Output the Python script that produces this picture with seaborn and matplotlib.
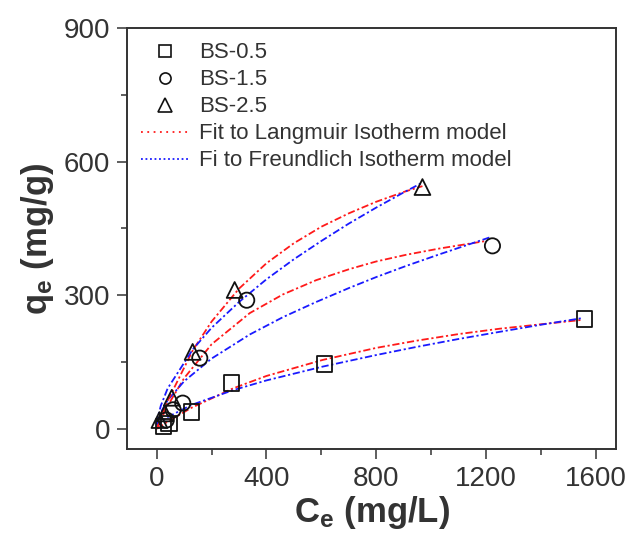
import matplotlib
matplotlib.use("Agg")
import matplotlib.pyplot as plt
from matplotlib.ticker import MultipleLocator
from matplotlib.lines import Line2D
import seaborn as sns
import pandas as pd

c_bs05 = [25, 45, 127, 273, 612, 1558]
q_bs05 = [5, 12, 38, 103, 146, 247]
c_bs15 = [35, 60, 95, 157, 328, 1223]
q_bs15 = [20, 43, 58, 159, 289, 411]
c_bs25 = [10, 30, 55, 131, 284, 968]
q_bs25 = [20, 35, 70, 173, 312, 543]

# Fitted curves
lc05 = [1, 5, 15, 40, 127, 278, 400, 605, 800, 945, 1100, 1249, 1400, 1552]
lq05 = [0.4, 2.1, 6.3, 16.4, 47.6, 91, 119, 155, 182, 198, 213, 225, 235, 245]
fc05 = [1, 5, 15, 40, 127, 278, 400, 605, 800, 945, 1100, 1249, 1400, 1552]
fq05 = [2.8, 7.5, 14.7, 26.7, 54, 87, 109, 140, 166, 184, 202, 218, 234, 249]

lc15 = [1, 5, 15, 40, 100, 200, 339, 460, 581, 703, 800, 909, 1030, 1200]
lq15 = [1.4, 7.1, 20.7, 52, 114, 190, 260, 302, 334, 359, 376, 391, 405, 422]
fc15 = [1, 5, 15, 40, 100, 200, 339, 460, 581, 703, 800, 909, 1030, 1218]
fq15 = [8.3, 20, 37, 64.5, 107, 158, 212, 251, 285, 317, 341, 366, 392, 431]

lc25 = [1, 5, 15, 40, 132, 200, 300, 400, 500, 600, 700, 800, 900, 968]
lq25 = [1.7, 8.5, 25, 63, 177, 241, 315, 372, 417, 454, 484, 510, 532, 545]
fc25 = [1, 5, 15, 40, 132, 200, 300, 400, 500, 600, 700, 800, 900, 968]
fq25 = [11.3, 28, 52, 91, 179, 227, 285, 336, 381, 422, 461, 497, 531, 553]

series_labels = ["BS-0.5", "BS-1.5", "BS-2.5"]
fit_labels = ["Fit to Langmuir Isotherm model", "Fi to Freundlich Isotherm model"]

sns.set_theme(style="white")
plt.rcParams["font.family"] = ["Liberation Sans", "DejaVu Sans"]
plt.rcParams["mathtext.fontset"] = "custom"
plt.rcParams["mathtext.rm"] = "Liberation Sans:bold"
plt.rcParams["mathtext.it"] = "Liberation Sans:bold"
plt.rcParams["mathtext.bf"] = "Liberation Sans:bold"

fig = plt.figure(figsize=(6.3, 5.38), dpi=100)
ax = fig.add_axes([0.2016, 0.1654, 0.7762, 0.7826])

red = "#ff1a1a"
blue = "#1a1aff"
dash = (4, 1.5, 1.2, 1.5)

curves = [(lc05, lq05, red), (fc05, fq05, blue),
          (lc15, lq15, red), (fc15, fq15, blue),
          (lc25, lq25, red), (fc25, fq25, blue)]
for cx, cy, col in curves:
    df = pd.DataFrame({"C": cx, "q": cy})
    sns.lineplot(data=df, x="C", y="q", ax=ax, color=col, lw=1.3,
                 sort=False, estimator=None, legend=False)
    ax.lines[-1].set_dashes(dash)

marker_sets = [(c_bs05, q_bs05, "s", 120), (c_bs15, q_bs15, "o", 120), (c_bs25, q_bs25, "^", 130)]
for (cx, cy, m, sz), lab in zip(marker_sets, series_labels):
    df = pd.DataFrame({"C": cx, "q": cy})
    sns.scatterplot(data=df, x="C", y="q", ax=ax, marker=m, s=sz,
                    facecolor="none", edgecolor="#111111", linewidth=1.3,
                    legend=False, zorder=5)

handles = [Line2D([], [], ls="none", marker="s", ms=8, mfc="none", mec="#111111", mew=1.2),
           Line2D([], [], ls="none", marker="o", ms=8, mfc="none", mec="#111111", mew=1.2),
           Line2D([], [], ls="none", marker="^", ms=10, mfc="none", mec="#111111", mew=1.2),
           Line2D([], [], color=red, lw=1.3, ls=(0, (1, 2.5))),
           Line2D([], [], color=blue, lw=1.3, ls=(0, (1, 1.5)))]
leg = ax.legend(handles, series_labels + fit_labels, loc="upper left",
                bbox_to_anchor=(0.0, 1.0), frameon=False, fontsize=16,
                handlelength=2.15, handletextpad=0.45, labelspacing=0.27,
                borderaxespad=0.25)
for t in leg.get_texts():
    t.set_color("#333333")

ax.set_xlim(-108, 1673)
ax.set_ylim(-45, 900)
ax.set_xticks([0, 400, 800, 1200, 1600])
ax.set_yticks([0, 300, 600, 900])
ax.xaxis.set_minor_locator(MultipleLocator(200))
ax.yaxis.set_minor_locator(MultipleLocator(150))
ax.tick_params(which="major", direction="out", length=7, width=1.1,
               color="#333333", labelsize=20, labelcolor="#333333", pad=5,
               bottom=True, left=True, top=False, right=False)
ax.tick_params(which="minor", direction="out", length=4, width=1.1,
               color="#333333", bottom=True, left=True, top=False, right=False)
for sp in ax.spines.values():
    sp.set_color("#333333")
    sp.set_linewidth(1.4)

ax.set_xlabel(r"C$_{\rm e}$ (mg/L)", fontsize=25, fontweight="bold", color="#333333", labelpad=2)
ax.set_ylabel(r"q$_{\rm e}$ (mg/g)", fontsize=25, fontweight="bold", color="#333333", labelpad=6)

fig.savefig("out.png", dpi=100)
